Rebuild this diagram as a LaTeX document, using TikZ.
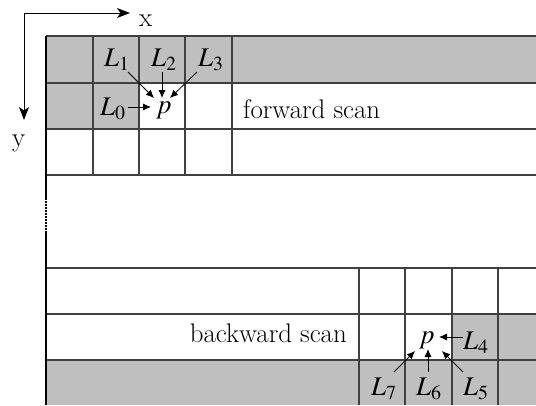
\documentclass[tikz,border=0pt]{standalone}
\usepackage{mathptmx}
\usetikzlibrary{arrows.meta}
\begin{document}
\begin{tikzpicture}[x=1bp,y=-1bp,
  grid/.style={draw=black!75,line width=1.1bp},
  cellfill/.style={fill=black!25},
  lbl/.style={inner sep=0pt,anchor=base west,font=\fontsize{27}{32}\selectfont},
  ptr/.style={-{Latex[length=8bp,width=7bp]},line width=0.8bp},
  axis/.style={-{Stealth[length=13bp,width=10bp,inset=3.5bp]},line width=1bp}]
\useasboundingbox (0,0) rectangle (536,405);
% fills
\fill[cellfill] (46,36) rectangle (536,83);
\fill[cellfill] (46,83) rectangle (139,129);
\fill[cellfill] (452,314) rectangle (536,360);
\fill[cellfill] (46,360) rectangle (536,405);
% horizontal lines
\foreach \yy in {36,83,129,175,268,314,360}
  \draw[grid] (46,\yy) -- (536,\yy);
% vertical lines top
\foreach \xx in {93,139,185,232}
  \draw[grid] (\xx,36) -- (\xx,175);
% vertical lines bottom
\foreach \xx in {359,405,452,498}
  \draw[grid] (\xx,268) -- (\xx,405);
% left border
\draw[line width=1.5bp] (46,36) -- (46,198);
\draw[line width=1.5bp,dash pattern=on 1.5bp off 1.5bp] (46,198) -- (46,232);
\draw[line width=1.5bp] (46,232) -- (46,405);
% axes
\coordinate (o) at (24,13);
\coordinate (xe) at (130,13);
\coordinate (ye) at (24,120);
\draw[axis] (o) -- (xe);
\draw[axis] (o) -- (ye);
\node[lbl] (xl) at (139,26) {x};
\node[lbl] (yl) at (12,146) {y};
% texts
\node[lbl] (fw) at (243,118) {forward scan};
\node[lbl,anchor=base east] (bw) at (347,342) {backward scan};
% top neighbourhood
\node[lbl] (p1) at (156,113) {$p$};
\node[lbl] (L0) at (100,115) {$L_0$};
\node[lbl] (L1) at (104,66) {$L_1$};
\node[lbl] (L2) at (151,66) {$L_2$};
\node[lbl] (L3) at (198,66) {$L_3$};
\coordinate (a0) at (128,107); \coordinate (b0) at (151,107);
\coordinate (a1) at (128,72);  \coordinate (b1) at (154,98);
\coordinate (a2) at (162,72);  \coordinate (b2) at (162,98);
\coordinate (a3) at (197,72);  \coordinate (b3) at (170,98);
\draw[ptr] (a0) -- (b0);
\draw[ptr] (a1) -- (b1);
\draw[ptr] (a2) -- (b2);
\draw[ptr] (a3) -- (b3);
% bottom neighbourhood
\node[lbl] (p2) at (419,343) {$p$};
\node[lbl] (L4) at (463,349) {$L_4$};
\node[lbl] (L5) at (463,395) {$L_5$};
\node[lbl] (L6) at (416,395) {$L_6$};
\node[lbl] (L7) at (371,395) {$L_7$};
\coordinate (a4) at (463,337); \coordinate (b4) at (439,337);
\coordinate (a5) at (463,372); \coordinate (b5) at (442,351);
\coordinate (a6) at (428,372); \coordinate (b6) at (428,349);
\coordinate (a7) at (394,372); \coordinate (b7) at (415,351);
\draw[ptr] (a4) -- (b4);
\draw[ptr] (a5) -- (b5);
\draw[ptr] (a6) -- (b6);
\draw[ptr] (a7) -- (b7);
\end{tikzpicture}
\end{document}
